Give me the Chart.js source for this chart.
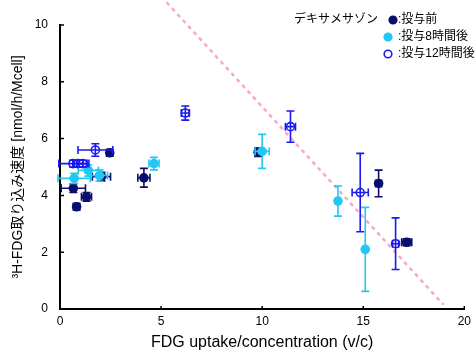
<!DOCTYPE html>
<html>
<head>
<meta charset="utf-8">
<script src="https://cdn.jsdelivr.net/npm/chart.js@4.4.1/dist/chart.umd.min.js"></script>
<style>
  html, body { margin: 0; padding: 0; background: #fff; }
</style>
</head>
<body>
<canvas id="chart" width="476" height="352"></canvas>
<script>
// デキサメサゾン投与前
var preX    = [0.66, 0.82, 1.31, 2.05, 2.46, 4.15, 9.8, 15.76, 17.15];
var preY    = [4.25, 3.6, 3.95, 4.66, 5.5, 4.62, 5.52, 4.42, 2.35];
var preXErr = [0.6, 0.15, 0.25, 0.45, 0.15, 0.3, 0.15, 0.15, 0.25];
var preYErr = [0.15, 0.12, 0.15, 0.15, 0.12, 0.33, 0.15, 0.47, 0.12];
// 投与8時間後
var h8X    = [0.7, 1.4, 1.95, 4.65, 10.0, 13.75, 15.1];
var h8Y    = [4.6, 4.88, 4.7, 5.12, 5.55, 3.8, 2.1];
var h8XErr = [0.8, 0.5, 0.4, 0.25, 0.35, 0.1, 0.1];
var h8YErr = [0.18, 0.2, 0.2, 0.22, 0.6, 0.53, 1.48];
// 投与12時間後
var h12X    = [0.64, 0.89, 1.13, 1.75, 6.2, 11.4, 14.85, 16.6];
var h12Y    = [5.12, 5.12, 5.12, 5.6, 6.9, 6.42, 4.1, 2.3];
var h12XErr = [0.7, 0.25, 0.3, 0.86, 0.2, 0.25, 0.4, 0.15];
var h12YErr = [0.12, 0.12, 0.12, 0.22, 0.25, 0.55, 1.38, 0.91];
// 破線（上限の目安）
var limitX = [5.27, 18.97];
var limitY = [10.8, 0.15];
// 目盛り
var yTicks = [0, 2, 4, 6, 8, 10];
var xTicks = [0, 5, 10, 15, 20];

var NAVY = '#0a0f6e';
var CYAN = '#22c8f4';
var BLUE = '#1a1aee';
var FONT = "'Liberation Sans', 'Noto Sans CJK JP', sans-serif";

function pts(xs, ys) {
    return xs.map(function (x, i) { return { x: x, y: ys[i] }; });
}

// per dataset error bars: [xErr, yErr, color]
var errors = {
    0: [preXErr, preYErr, NAVY],
    1: [h8XErr, h8YErr, CYAN],
    2: [h12XErr, h12YErr, BLUE]
};

var errorBars = {
    id: 'errorBars',
    afterDatasetDraw: function (chart, args) {
        var e = errors[args.index];
        if (!e) return;
        var ctx = chart.ctx, xs = chart.scales.x, ys = chart.scales.y;
        var data = chart.data.datasets[args.index].data;
        var cap = 4;
        ctx.save();
        ctx.strokeStyle = e[2];
        ctx.lineWidth = 1.6;
        data.forEach(function (p, i) {
            var px = xs.getPixelForValue(p.x), py = ys.getPixelForValue(p.y);
            var x0 = xs.getPixelForValue(p.x - e[0][i]), x1 = xs.getPixelForValue(p.x + e[0][i]);
            var y0 = ys.getPixelForValue(p.y - e[1][i]), y1 = ys.getPixelForValue(p.y + e[1][i]);
            ctx.beginPath();
            ctx.moveTo(x0, py); ctx.lineTo(x1, py);
            ctx.moveTo(x0, py - cap); ctx.lineTo(x0, py + cap);
            ctx.moveTo(x1, py - cap); ctx.lineTo(x1, py + cap);
            ctx.moveTo(px, y0); ctx.lineTo(px, y1);
            ctx.moveTo(px - cap, y0); ctx.lineTo(px + cap, y0);
            ctx.moveTo(px - cap, y1); ctx.lineTo(px + cap, y1);
            ctx.stroke();
        });
        ctx.restore();
    }
};

// inward tick marks and the legend block
var decor = {
    id: 'decor',
    afterDraw: function (chart) {
        var ctx = chart.ctx, xs = chart.scales.x, ys = chart.scales.y;
        var a = chart.chartArea;
        ctx.save();
        ctx.strokeStyle = '#000';
        ctx.lineWidth = 1.5;
        ctx.beginPath();
        yTicks.forEach(function (v) {
            var py = ys.getPixelForValue(v);
            ctx.moveTo(a.left, py); ctx.lineTo(a.left + 4, py);
        });
        xTicks.forEach(function (v) {
            var px = xs.getPixelForValue(v);
            ctx.moveTo(px, a.bottom); ctx.lineTo(px, a.bottom - 3);
        });
        ctx.stroke();

        ctx.font = '12px ' + FONT;
        ctx.fillStyle = '#000';
        ctx.textBaseline = 'middle';
        ctx.fillText('デキサメサゾン', 294, 20);
        var rows = [
            { x: 393, y: 20, fill: NAVY, stroke: NAVY, label: ':投与前' },
            { x: 388, y: 37, fill: CYAN, stroke: CYAN, label: ':投与8時間後' },
            { x: 388, y: 54, fill: '#fff', stroke: BLUE, label: ':投与12時間後' }
        ];
        rows.forEach(function (r) {
            ctx.beginPath();
            ctx.arc(r.x, r.y, 3.8, 0, Math.PI * 2);
            ctx.fillStyle = r.fill;
            ctx.fill();
            ctx.lineWidth = 1.6;
            ctx.strokeStyle = r.stroke;
            ctx.stroke();
            ctx.fillStyle = '#000';
            ctx.fillText(r.label, 398, r.y);
        });
        ctx.restore();
    }
};

new Chart(document.getElementById('chart'), {
    type: 'scatter',
    data: {
        datasets: [
            {
                label: '投与前',
                data: pts(preX, preY),
                backgroundColor: NAVY,
                borderColor: NAVY,
                pointRadius: 4.8,
                pointBorderWidth: 0,
                order: 3
            },
            {
                label: '投与8時間後',
                data: pts(h8X, h8Y),
                backgroundColor: CYAN,
                borderColor: CYAN,
                pointRadius: 4.8,
                pointBorderWidth: 0,
                order: 2
            },
            {
                label: '投与12時間後',
                data: pts(h12X, h12Y),
                backgroundColor: '#fff',
                borderColor: BLUE,
                pointRadius: 4,
                pointBorderWidth: 1.6,
                order: 1
            },
            {
                type: 'line',
                data: pts(limitX, limitY),
                borderColor: '#f7a8cc',
                borderWidth: 2.5,
                borderDash: [4, 4],
                pointRadius: 0,
                clip: false,
                order: 4
            }
        ]
    },
    options: {
        responsive: false,
        animation: false,
        layout: { padding: { top: 25, right: 10, left: 0, bottom: 0 } },
        plugins: {
            legend: { display: false },
            tooltip: { enabled: false }
        },
        scales: {
            x: {
                type: 'linear',
                min: 0,
                max: 20,
                afterFit: function (s) { s.height = 43; },
                afterBuildTicks: function (s) { s.ticks = xTicks.map(function (v) { return { value: v }; }); },
                grid: { display: false, drawTicks: false },
                border: { display: true, color: '#000', width: 2 },
                ticks: { color: '#000', padding: 5, font: { size: 12, family: FONT } },
                title: {
                    display: true,
                    text: 'FDG uptake/concentration (v/c)',
                    color: '#000',
                    padding: { top: 0, bottom: 0 },
                    font: { size: 16, family: FONT }
                }
            },
            y: {
                type: 'linear',
                min: 0,
                max: 10,
                afterFit: function (s) { s.width = 60; },
                afterBuildTicks: function (s) { s.ticks = yTicks.map(function (v) { return { value: v }; }); },
                grid: { display: false, drawTicks: false },
                border: { display: true, color: '#000', width: 2 },
                ticks: { color: '#000', padding: 12, font: { size: 12, family: FONT } },
                title: {
                    display: true,
                    text: '³H-FDG取り込み速度 [nmol/h/Mcell]',
                    color: '#000',
                    padding: { top: 10, bottom: 0 },
                    font: { size: 14, family: FONT }
                }
            }
        }
    },
    plugins: [errorBars, decor]
});
</script>
</body>
</html>
